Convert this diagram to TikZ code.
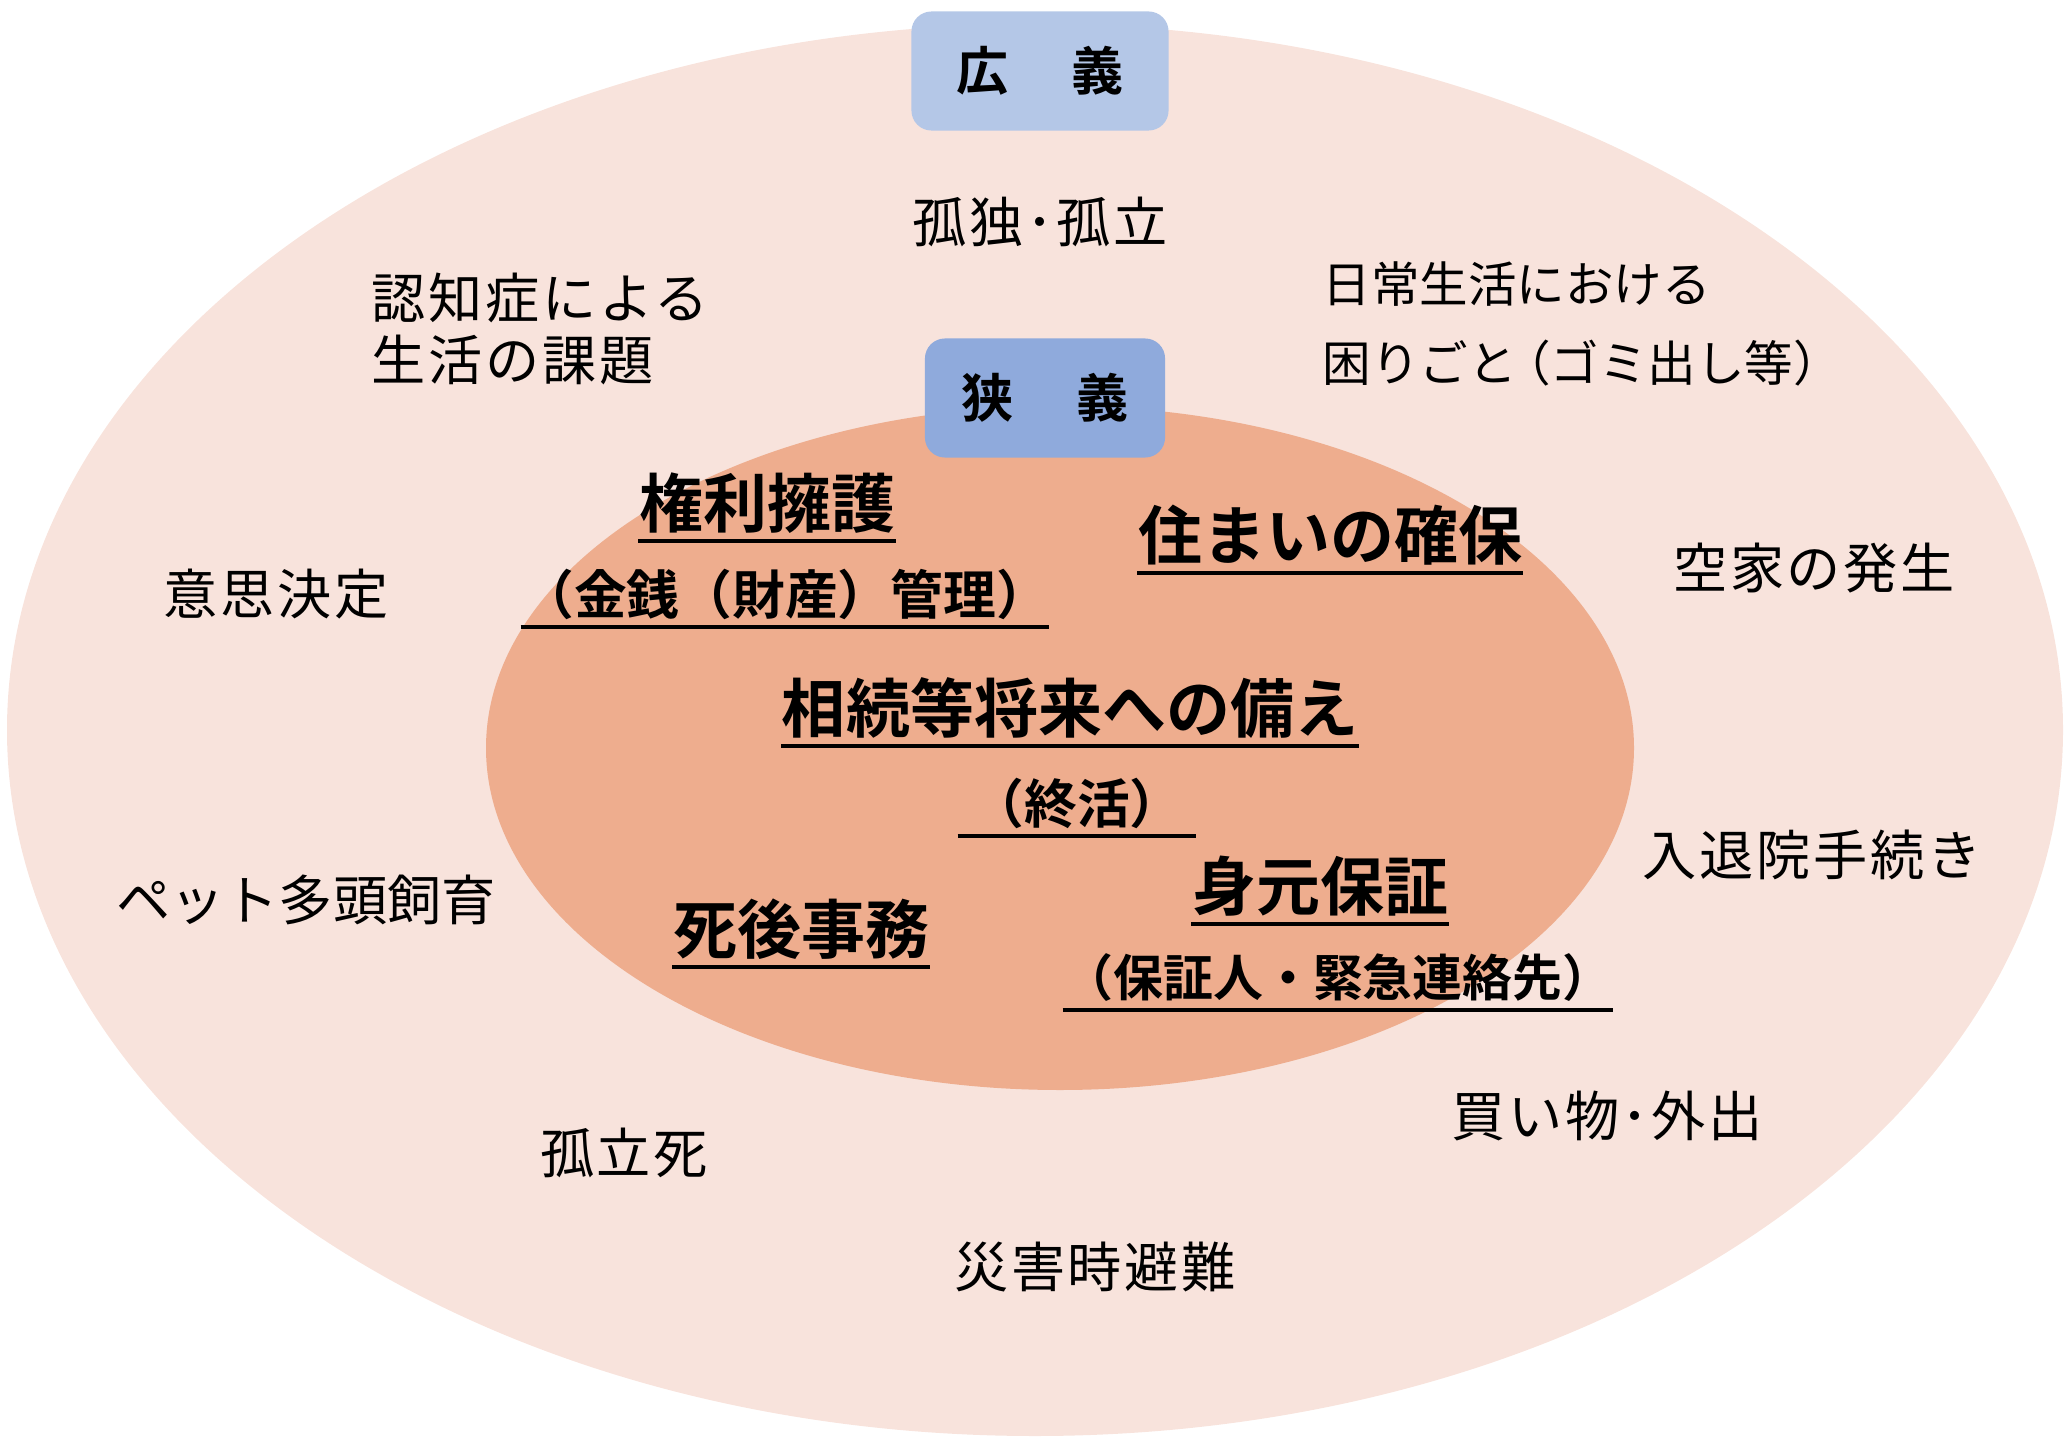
\documentclass[tikz,border=0pt]{standalone}
\usepackage{fontspec}
\usepackage{tikz}
\newfontfamily\jp{Noto Sans CJK JP}
\newfontfamily\jpwide{Noto Sans CJK JP}[LetterSpace=5]
\newfontfamily\jpbold{Noto Sans CJK JP Bold}

\definecolor{outerfill}{RGB}{248,227,220}
\definecolor{innerfill}{RGB}{238,173,142}
\definecolor{widebox}{RGB}{180,199,231}
\definecolor{narrowbox}{RGB}{143,170,220}

\begin{document}
\begin{tikzpicture}
		[x=0.01cm,y=-0.01cm,line cap=round,
		%Styles
		outer text/.style={font=\jpwide\fontsize{15.4}{17.6}\selectfont,inner sep=0pt,align=left},
		plain text/.style={font=\jp\fontsize{13.8}{22.5}\selectfont,inner sep=0pt,align=left},
		big text/.style={font=\jpbold\fontsize{18.2}{20}\selectfont,inner sep=0pt},
		small text/.style={font=\jpbold\fontsize{15}{16}\selectfont,inner sep=0pt},
		title box/.style={rounded corners=0.2cm,font=\jpbold\fontsize{14.8}{16}\selectfont,
			minimum height=1.19cm,inner sep=0pt},
		underline/.style={line width=1.1pt,line cap=butt}
		]
		
		\useasboundingbox (0,0) rectangle (2070,1437);
		
		%The graphic
		
		\fill[outerfill] (1035,730) ellipse [x radius=1028, y radius=706];
		\fill[innerfill] (1060,748) ellipse [x radius=574, y radius=342];
		
		\node[title box,fill=widebox,minimum width=2.57cm] (kogi) at (1040,71) {広\hspace{1.2em}義};
		\node[title box,fill=narrowbox,minimum width=2.40cm] (kyogi) at (1045,398) {狭\hspace{1.2em}義};
		
		% wide sense
		\node[outer text] (koritsu) at (1040,222) {孤独･孤立};
		\node[outer text,anchor=west] (ninchi) at (371,329) {認知症による\\生活の課題};
		\node[plain text,anchor=west] (nichijo) at (1322,324) {日常生活における\\困りごと\hspace{-0.3em}（ゴミ出し等）};
		\node[outer text] (ishi) at (276,594) {意思決定};
		\node[outer text] (akiya) at (1814,568) {空家の発生};
		\node[outer text,font=\jp\fontsize{15.4}{17.6}\selectfont] (petto) at (306,900) {ペット多頭飼育};
		\node[outer text] (nyuin) at (1812,855) {入退院手続き};
		\node[outer text] (kodokushi) at (624,1153) {孤立死};
		\node[outer text] (kaimono) at (1607,1116) {買い物･外出};
		\node[outer text] (saigai) at (1095,1267) {災害時避難};
		
		% narrow sense
		\node[big text] (kenri) at (767,503) {権利擁護};
		\node[small text] (kinsen) at (785,594) {（金銭（財産）管理）};
		\node[big text] (sumai) at (1330,535) {住まいの確保};
		\node[big text] (sozoku) at (1070,708) {相続等将来への備え};
		\node[small text] (shukatsu) at (1077,803) {\hspace*{0.25em}（終活）\hspace*{0.25em}};
		\node[big text] (mimoto) at (1320,886) {身元保証};
		\node[big text] (shigo) at (801,929) {死後事務};
		\node[small text,font=\jpbold\fontsize{14.2}{16}\selectfont] (hosho) at (1338,978) {（保証人・緊急連絡先）};
		
		\foreach \n in {kenri,kinsen,sumai,sozoku,shukatsu,mimoto,shigo,hosho}
			\draw[underline] ([yshift=-2pt]\n.south west) -- ([yshift=-2pt]\n.south east);
	\end{tikzpicture}
\end{document}
